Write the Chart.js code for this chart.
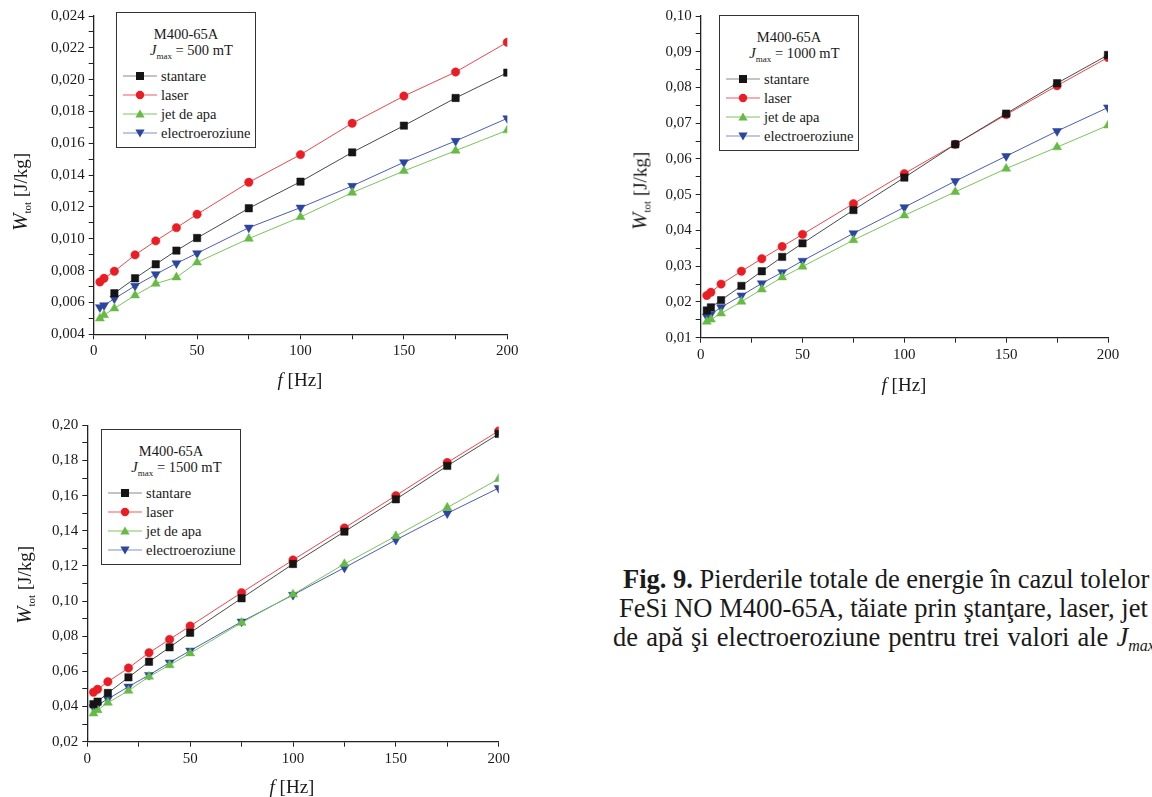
<!DOCTYPE html>
<html>
<head>
<meta charset="utf-8">
<script src="https://cdn.jsdelivr.net/npm/chart.js@4.4.1/dist/chart.umd.min.js"></script>
<style>
    body { margin: 0; background: #fff; font-family: "Liberation Serif", "DejaVu Serif", serif; color: #1a1a1a; }
    #page { position: relative; width: 1152px; height: 797px; overflow: hidden; }
    canvas { position: absolute; }
    .legend { position: absolute; border: 1.3px solid #333; background: #fff; width: 138px; height: 134px; font-size: 14.5px; }
    .legend .row { position: absolute; left: 0; white-space: nowrap; line-height: 16px; transform: translateY(-50%); }
    .legend .ttl { width: 100%; text-align: center; }
    .legend svg { position: absolute; left: 6px; top: 2px; }
    .legend .lbl { position: absolute; left: 44px; top: 0; }
    .ytitle, .xtitle { position: absolute; white-space: nowrap; font-size: 19px; }
    .ytitle { transform: translate(-50%, -50%) rotate(-90deg); }
    .xtitle { transform: translate(-50%, -50%); }
    sub { font-size: 11px; font-style: normal; vertical-align: -4px; }
    .cap { position: absolute; white-space: nowrap; font-size: 26.5px; line-height: 26.5px; }
    .cap sub { font-size: 16px; vertical-align: -5px; font-style: italic; }
</style>
</head>
<body>
<div id="page">
    <canvas id="chart500" width="540" height="390" style="left:0;top:0"></canvas>
    <canvas id="chart1000" width="552" height="400" style="left:600px;top:0"></canvas>
    <canvas id="chart1500" width="540" height="397" style="left:0;top:400px"></canvas>

    <div class="cap" style="top:566px;left:623px"><b>Fig. 9.</b> Pierderile totale de energie în cazul tolelor</div>
    <div class="cap" style="top:595px;left:619px">FeSi NO M400-65A, tăiate prin ştanţare, laser, jet</div>
    <div class="cap" style="top:624px;left:613px;word-spacing:1.5px">de apă şi electroeroziune pentru trei valori ale <i>J<sub>max</sub></i></div>
</div>

<script>
// frequency points [Hz]
const freqHz = [3, 5, 10, 20, 30, 40, 50, 75, 100, 125, 150, 175, 200];

// Jmax = 500 mT
const w500Stantare = [null, null, 0.00658, 0.00752, 0.00840, 0.00926, 0.01005, 0.01192, 0.01359, 0.01543, 0.01711, 0.01885, 0.02044];
const w500Laser = [0.00729, 0.00752, 0.00796, 0.00899, 0.00987, 0.01070, 0.01154, 0.01355, 0.01529, 0.01726, 0.01897, 0.02048, 0.02235];
const w500Jet = [0.00500, 0.00521, 0.00563, 0.00645, 0.00718, 0.00758, 0.00852, 0.01001, 0.01137, 0.01290, 0.01426, 0.01554, 0.01682];
const w500Electro = [0.00570, 0.00582, 0.00624, 0.00704, 0.00777, 0.00846, 0.00909, 0.01070, 0.01196, 0.01332, 0.01481, 0.01615, 0.01757];

// Jmax = 1000 mT
const w1000Stantare = [0.0176, 0.0185, 0.0205, 0.0245, 0.0286, 0.0326, 0.0364, 0.0457, 0.0548, 0.0641, 0.0727, 0.0812, 0.0891];
const w1000Laser = [0.0218, 0.0227, 0.0250, 0.0286, 0.0321, 0.0355, 0.0389, 0.0475, 0.0559, 0.0641, 0.0724, 0.0805, 0.0884];
const w1000Jet = [0.0145, 0.0151, 0.0168, 0.0201, 0.0235, 0.0269, 0.0299, 0.0373, 0.0442, 0.0508, 0.0573, 0.0633, 0.0694];
const w1000Electro = [0.0159, 0.0166, 0.0185, 0.0218, 0.0252, 0.0283, 0.0315, 0.0392, 0.0465, 0.0538, 0.0608, 0.0678, 0.0744];

// Jmax = 1500 mT
const w1500Stantare = [0.0414, 0.0428, 0.0477, 0.0566, 0.0655, 0.0737, 0.0820, 0.1016, 0.1211, 0.1395, 0.1579, 0.1769, 0.1951];
const w1500Laser = [0.0481, 0.0498, 0.0541, 0.0619, 0.0706, 0.0782, 0.0858, 0.1048, 0.1234, 0.1416, 0.1600, 0.1788, 0.1968];
const w1500Jet = [0.0361, 0.0380, 0.0422, 0.0490, 0.0570, 0.0636, 0.0703, 0.0877, 0.1038, 0.1211, 0.1370, 0.1532, 0.1695];
const w1500Electro = [0.0395, 0.0409, 0.0443, 0.0513, 0.0579, 0.0650, 0.0718, 0.0883, 0.1035, 0.1190, 0.1348, 0.1499, 0.1643];

const seriesNames = ['stantare', 'laser', 'jet de apa', 'electroeroziune'];
const xTicks = [0, 50, 100, 150, 200];

const styles = [
    { line: '#4a4a4a', fill: '#151515', shape: 'rect', radius: 5.2, rot: 0, legendLine: '#8a8a8a' },
    { line: '#f0474c', fill: '#ec1c24', shape: 'circle', radius: 4.2, rot: 0, legendLine: '#f05a5e' },
    { line: '#79c45a', fill: '#66bb44', shape: 'triangle', radius: 5.2, rot: 0, legendLine: '#7cc660' },
    { line: '#4a5db4', fill: '#2b45a0', shape: 'triangle', radius: 5.2, rot: 180, legendLine: '#8090c8' }
];

function toPoints(values) {
    return freqHz.map((f, i) => ({ x: f, y: values[i] }));
}

function buildChart(canvasId, seriesList, yMin, yMax, yStep, decimals, yAxisWidth, xAxisHeight, padTop, padRight) {
    const ctx = document.getElementById(canvasId).getContext('2d');

    const datasets = seriesList.map((values, i) => ({
        label: seriesNames[i],
        data: toPoints(values),
        borderColor: styles[i].line,
        borderWidth: 1,
        pointStyle: styles[i].shape,
        pointRotation: styles[i].rot,
        pointRadius: styles[i].radius,
        pointBackgroundColor: styles[i].fill,
        pointBorderColor: styles[i].fill,
        pointBorderWidth: 0.5,
        tension: 0
    }));

    return new Chart(ctx, {
        type: 'line',
        data: { datasets: datasets },
        options: {
            responsive: false,
            animation: false,
            devicePixelRatio: 1,
            layout: { padding: { top: padTop, right: padRight, left: 0, bottom: 0 } },
            plugins: { legend: { display: false }, tooltip: { enabled: false } },
            scales: {
                x: {
                    type: 'linear',
                    min: 0,
                    max: 200,
                    afterFit: (s) => { s.height = xAxisHeight; },
                    ticks: {
                        stepSize: 25,
                        autoSkip: false,
                        maxRotation: 0,
                        padding: 3,
                        color: '#1a1a1a',
                        font: { family: 'Liberation Serif', size: 15 },
                        callback: (v) => xTicks.includes(v) ? String(v) : ''
                    },
                    grid: { drawOnChartArea: false, drawTicks: true, tickLength: 5, color: '#222', lineWidth: 1 },
                    border: { display: true, color: '#222', width: 1.3 }
                },
                y: {
                    type: 'linear',
                    min: yMin,
                    max: yMax,
                    afterFit: (s) => { s.width = yAxisWidth; },
                    ticks: {
                        stepSize: yStep,
                        autoSkip: false,
                        padding: 4,
                        color: '#1a1a1a',
                        font: { family: 'Liberation Serif', size: 15 },
                        callback: (v) => {
                            const n = Math.round((v - yMin) / yStep);
                            if (n % 2 !== 0) return '';
                            return v.toFixed(decimals).replace('.', ',');
                        }
                    },
                    grid: { drawOnChartArea: false, drawTicks: true, tickLength: 5, color: '#222', lineWidth: 1 },
                    border: { display: true, color: '#222', width: 1.3 }
                }
            }
        }
    });
}

function legendSymbol(st) {
    let marker = '';
    if (st.shape === 'rect') marker = `<rect x="13" y="2" width="8" height="8" fill="${st.fill}"/>`;
    else if (st.shape === 'circle') marker = `<circle cx="17" cy="6" r="4.2" fill="${st.fill}"/>`;
    else if (st.rot === 0) marker = `<polygon points="17,1.5 21.6,9.5 12.4,9.5" fill="${st.fill}"/>`;
    else marker = `<polygon points="17,10.5 21.6,2.5 12.4,2.5" fill="${st.fill}"/>`;
    return `<svg width="34" height="12"><line x1="0" y1="6" x2="34" y2="6" stroke="${st.legendLine}" stroke-width="1.2"/>${marker}</svg>`;
}

function addLegend(left, top, jmax) {
    const box = document.createElement('div');
    box.className = 'legend';
    box.style.left = left + 'px';
    box.style.top = top + 'px';
    let html = `<div class="row ttl" style="top:21px">M400-65A</div>`;
    html += `<div class="row ttl" style="top:40px">&nbsp;&nbsp;&nbsp;<i>J</i><sub style="font-size:9px">max</sub> = ${jmax} mT</div>`;
    const rowTops = [63, 82, 101, 119.5];
    seriesNames.forEach((name, i) => {
        html += `<div class="row" style="top:${rowTops[i]}px;width:100%;height:16px">${legendSymbol(styles[i])}<span class="lbl">${name}</span></div>`;
    });
    box.innerHTML = html;
    document.getElementById('page').appendChild(box);
}

function addAxisTitles(yx, yy, xx, xy) {
    const page = document.getElementById('page');
    const yt = document.createElement('div');
    yt.className = 'ytitle';
    yt.style.left = yx + 'px';
    yt.style.top = yy + 'px';
    yt.innerHTML = '<i style="font-size:21px">W</i><sub>tot</sub> [J/kg]';
    page.appendChild(yt);

    const xt = document.createElement('div');
    xt.className = 'xtitle';
    xt.style.left = xx + 'px';
    xt.style.top = xy + 'px';
    xt.innerHTML = '<i>f</i> [Hz]';
    page.appendChild(xt);
}

buildChart('chart500', [w500Stantare, w500Laser, w500Jet, w500Electro], 0.004, 0.024, 0.001, 3, 93.7, 55.7, 16, 32.7);
buildChart('chart1000', [w1000Stantare, w1000Laser, w1000Jet, w1000Electro], 0.01, 0.10, 0.005, 2, 100.7, 62.3, 16, 44);
buildChart('chart1500', [w1500Stantare, w1500Laser, w1500Jet, w1500Electro], 0.02, 0.20, 0.01, 2, 87.3, 55.3, 25.3, 41.3);

addLegend(116, 12, 500);
addLegend(719, 15, 1000);
addLegend(101, 429, 1500);

addAxisTitles(20, 192, 300, 380);
addAxisTitles(640, 191, 904, 385);
addAxisTitles(24, 585, 292, 787);
</script>
</body>
</html>
